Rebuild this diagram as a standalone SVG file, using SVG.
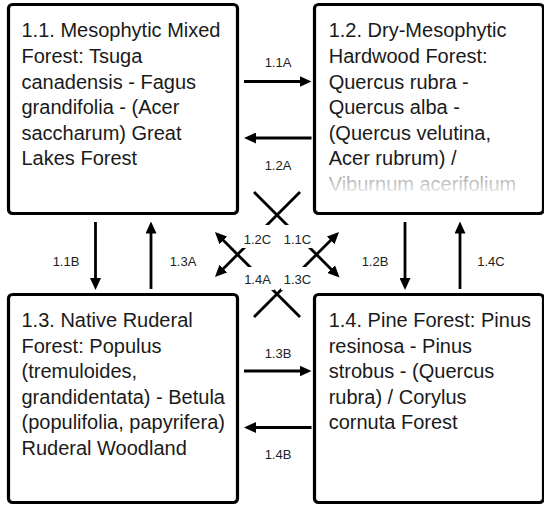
<svg xmlns="http://www.w3.org/2000/svg" width="544" height="506" viewBox="0 0 544 506">
<style>
.box{fill:#fff;stroke:#000;stroke-width:3.2}
.t{font-family:"Liberation Sans",Arial,sans-serif;font-size:20px;fill:#1a1a1a}
.lbl{font-family:"Liberation Sans",Arial,sans-serif;font-size:13px;fill:#222;text-anchor:middle}
.c{stroke:#000;stroke-width:2.8;fill:none;marker-end:url(#ah)}
.bg{fill:#fff}
</style>
<defs>
<marker id="ah" viewBox="0 0 12 11" markerWidth="12" markerHeight="11" markerUnits="userSpaceOnUse" refX="8" refY="5.5" orient="auto">
<path d="M0,0 L12,5.5 L0,11 z" fill="#000"/>
</marker>
<linearGradient id="fade" x1="0" y1="0" x2="0" y2="1">
<stop offset="0" stop-color="#fff" stop-opacity="0.5"/>
<stop offset="1" stop-color="#fff" stop-opacity="1"/>
</linearGradient>
</defs>
<rect width="544" height="506" fill="#fff"/>
<g id="connectors">
<line class="c" x1="244" y1="81.5" x2="307.5" y2="81.5"/>
<line class="c" x1="311.5" y1="138" x2="248" y2="138"/>
<line class="c" x1="244" y1="371" x2="307.5" y2="371"/>
<line class="c" x1="311.5" y1="427.5" x2="248" y2="427.5"/>
<line class="c" x1="95.5" y1="222" x2="95.5" y2="286"/>
<line class="c" x1="151" y1="289" x2="151" y2="225.5"/>
<line class="c" x1="405" y1="222" x2="405" y2="286"/>
<line class="c" x1="460" y1="289" x2="460" y2="225.5"/>
<line class="c" x1="254" y1="192" x2="336.7" y2="274.7"/>
<line class="c" x1="300" y1="192" x2="217.8" y2="274.2"/>
<line class="c" x1="300" y1="317" x2="217.8" y2="234.8"/>
<line class="c" x1="254" y1="317" x2="336.2" y2="234.8"/>
<rect class="bg" x="241" y="225" width="33" height="23"/>
<rect class="bg" x="281" y="225" width="33" height="23"/>
<rect class="bg" x="241" y="267" width="33" height="23"/>
<rect class="bg" x="281" y="267" width="33" height="23"/>
<text class="lbl" x="278" y="67">1.1A</text>
<text class="lbl" x="278" y="169.5">1.2A</text>
<text class="lbl" x="278" y="357.5">1.3B</text>
<text class="lbl" x="278" y="459">1.4B</text>
<text class="lbl" x="66" y="265.5">1.1B</text>
<text class="lbl" x="183" y="265.5">1.3A</text>
<text class="lbl" x="375" y="265.5">1.2B</text>
<text class="lbl" x="491" y="265.5">1.4C</text>
<text class="lbl" x="257.5" y="244">1.2C</text>
<text class="lbl" x="297.5" y="244">1.1C</text>
<text class="lbl" x="257.5" y="284">1.4A</text>
<text class="lbl" x="297.5" y="284">1.3C</text>
</g>
<g id="n11">
<rect class="box" x="8.5" y="4.5" width="229" height="209" rx="4"/>
<text class="t" x="21.5" y="37.3"><tspan x="21.5">1.1. Mesophytic Mixed</tspan><tspan x="21.5" dy="25.6">Forest: Tsuga</tspan><tspan x="21.5" dy="25.6">canadensis - Fagus</tspan><tspan x="21.5" dy="25.6">grandifolia - (Acer</tspan><tspan x="21.5" dy="25.6">saccharum) Great</tspan><tspan x="21.5" dy="25.6">Lakes Forest</tspan></text>
</g>
<g id="n12">
<rect class="box" x="314.5" y="4.5" width="229" height="209" rx="4"/>
<text class="t" x="328.7" y="37.3"><tspan x="328.7">1.2. Dry-Mesophytic</tspan><tspan x="328.7" dy="25.6">Hardwood Forest:</tspan><tspan x="328.7" dy="25.6">Quercus rubra -</tspan><tspan x="328.7" dy="25.6">Quercus alba -</tspan><tspan x="328.7" dy="25.6">(Quercus velutina,</tspan><tspan x="328.7" dy="25.6">Acer rubrum) /</tspan><tspan x="328.7" dy="25.6">Viburnum acerifolium</tspan></text>
<rect x="317" y="170" width="224" height="28" fill="url(#fade)"/>
</g>
<g id="n13">
<rect class="box" x="8.5" y="294.5" width="229" height="208" rx="4"/>
<text class="t" x="21.5" y="327"><tspan x="21.5">1.3. Native Ruderal</tspan><tspan x="21.5" dy="25.6">Forest: Populus</tspan><tspan x="21.5" dy="25.6">(tremuloides,</tspan><tspan x="21.5" dy="25.6">grandidentata) - Betula</tspan><tspan x="21.5" dy="25.6">(populifolia, papyrifera)</tspan><tspan x="21.5" dy="25.6">Ruderal Woodland</tspan></text>
</g>
<g id="n14">
<rect class="box" x="314.5" y="294.5" width="229" height="208" rx="4"/>
<text class="t" x="328.7" y="327"><tspan x="328.7">1.4. Pine Forest: Pinus</tspan><tspan x="328.7" dy="25.6">resinosa - Pinus</tspan><tspan x="328.7" dy="25.6">strobus - (Quercus</tspan><tspan x="328.7" dy="25.6">rubra) / Corylus</tspan><tspan x="328.7" dy="25.6">cornuta Forest</tspan></text>
</g>
</svg>
